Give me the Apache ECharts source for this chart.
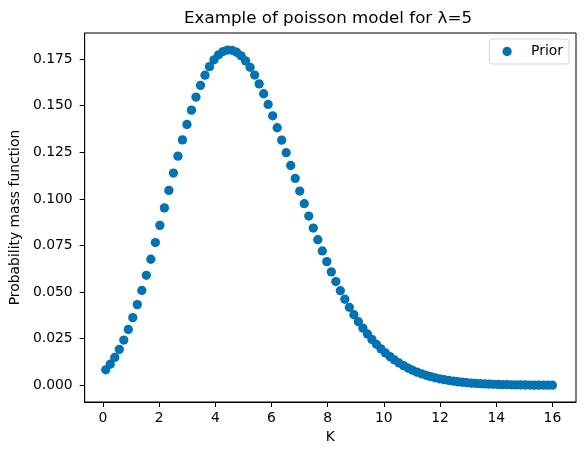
<!DOCTYPE html>
<html>
<head>
<meta charset="utf-8">
<script src="https://cdn.jsdelivr.net/npm/echarts/dist/echarts.min.js"></script>
<style>
html, body { margin: 0; padding: 0; background: #ffffff; }
#chart { width: 584px; height: 455px; }
</style>
</head>
<body>
<div id="chart"></div>
<script>
// ---- data ----
const titleText = 'Example of poisson model for \u03bb=5';
const xName = 'K';
const yName = 'Probability mass function';
const seriesName = 'Prior';

const kValues = [
  0.1, 0.2606, 0.4212, 0.5818, 0.7424, 0.9030, 1.0636, 1.2242, 1.3848, 1.5455,
  1.7061, 1.8667, 2.0273, 2.1879, 2.3485, 2.5091, 2.6697, 2.8303, 2.9909, 3.1515,
  3.3121, 3.4727, 3.6333, 3.7939, 3.9545, 4.1152, 4.2758, 4.4364, 4.5970, 4.7576,
  4.9182, 5.0788, 5.2394, 5.4000, 5.5606, 5.7212, 5.8818, 6.0424, 6.2030, 6.3636,
  6.5242, 6.6848, 6.8455, 7.0061, 7.1667, 7.3273, 7.4879, 7.6485, 7.8091, 7.9697,
  8.1303, 8.2909, 8.4515, 8.6121, 8.7727, 8.9333, 9.0939, 9.2545, 9.4152, 9.5758,
  9.7364, 9.8970, 10.0576, 10.2182, 10.3788, 10.5394, 10.7000, 10.8606, 11.0212, 11.1818,
  11.3424, 11.5030, 11.6636, 11.8242, 11.9848, 12.1455, 12.3061, 12.4667, 12.6273, 12.7879,
  12.9485, 13.1091, 13.2697, 13.4303, 13.5909, 13.7515, 13.9121, 14.0727, 14.2333, 14.3939,
  14.5545, 14.7152, 14.8758, 15.0364, 15.1970, 15.3576, 15.5182, 15.6788, 15.8394, 16.0
];

const pmfValues = [
  0.00832, 0.01133, 0.01497, 0.01928, 0.02426, 0.02993, 0.03629, 0.04328, 0.05088, 0.05902,
  0.06762, 0.07658, 0.08580, 0.09517, 0.10457, 0.11386, 0.12293, 0.13166, 0.13992, 0.14762,
  0.15465, 0.16092, 0.16638, 0.17096, 0.17461, 0.17731, 0.17906, 0.17985, 0.17971, 0.17866,
  0.17675, 0.17404, 0.17058, 0.16644, 0.16169, 0.15641, 0.15068, 0.14458, 0.13818, 0.13155,
  0.12478, 0.11792, 0.11103, 0.10419, 0.09743, 0.09080, 0.08435, 0.07810, 0.07209, 0.06633,
  0.06085, 0.05566, 0.05076, 0.04616, 0.04185, 0.03784, 0.03413, 0.03069, 0.02753, 0.02463,
  0.02198, 0.01956, 0.01737, 0.01539, 0.01360, 0.01199, 0.01054, 0.00925, 0.00810, 0.00707,
  0.00617, 0.00536, 0.00465, 0.00403, 0.00348, 0.00300, 0.00259, 0.00222, 0.00190, 0.00163,
  0.00139, 0.00118, 0.00101, 0.00086, 0.00073, 0.00061, 0.00052, 0.00044, 0.00037, 0.00031,
  0.00026, 0.00022, 0.00018, 0.00015, 0.00013, 0.00010, 0.00009, 0.00007, 0.00006, 0.00005
];

const xTicks = [0, 2, 4, 6, 8, 10, 12, 14, 16];
const yTicks = [0, 0.025, 0.05, 0.075, 0.1, 0.125, 0.15, 0.175];

// ---- chart ----
const FONT = 'DejaVu Sans';
const chart = echarts.init(document.getElementById('chart'), null, { renderer: 'canvas' });

const points = kValues.map((k, i) => [k, pmfValues[i]]);

const option = {
  animation: false,
  backgroundColor: '#ffffff',
  textStyle: { fontFamily: FONT },
  title: {
    text: titleText,
    left: 328,
    textAlign: 'center',
    top: 10,
    padding: 0,
    textStyle: { fontFamily: FONT, fontSize: 16.7, fontWeight: 'normal', color: '#000000', lineHeight: 16.7 }
  },
  legend: {
    data: [seriesName],
    right: 15,
    top: 39,
    orient: 'vertical',
    icon: 'circle',
    itemWidth: 20,
    itemHeight: 9.3,
    padding: [5.5, 6, 5.5, 13],
    backgroundColor: '#ffffff',
    borderColor: '#d5d5d5',
    borderWidth: 1,
    borderRadius: 3,
    textStyle: { fontFamily: FONT, fontSize: 13.9, color: '#000000', lineHeight: 14, padding: [0, 0, 0, 9] }
  },
  grid: {
    left: 80,
    top: 33,
    right: 8,
    bottom: 53,
    show: true,
    borderColor: '#000000',
    borderWidth: 1,
    backgroundColor: 'transparent'
  },
  xAxis: {
    type: 'value',
    min: -0.65,
    max: 16.84,
    name: xName,
    nameLocation: 'middle',
    nameGap: 28,
    nameTextStyle: { fontFamily: FONT, fontSize: 13.9, color: '#000000', lineHeight: 13.9 },
    splitLine: { show: false },
    axisLine: { show: true, onZero: false, lineStyle: { color: '#000000', width: 1 } },
    axisTick: { show: true, inside: false, length: 5, lineStyle: { color: '#000000', width: 1 }, customValues: xTicks },
    axisLabel: {
      show: true, margin: 9.5, fontFamily: FONT, fontSize: 13.9, color: '#000000', lineHeight: 13.9,
      customValues: xTicks,
      formatter: v => String(v)
    }
  },
  yAxis: {
    type: 'value',
    min: -0.00896,
    max: 0.18900,
    name: yName,
    nameLocation: 'middle',
    nameRotate: 90,
    nameGap: 50,
    nameTextStyle: { fontFamily: FONT, fontSize: 13.9, color: '#000000', lineHeight: 13.9 },
    splitLine: { show: false },
    axisLine: { show: true, onZero: false, lineStyle: { color: '#000000', width: 1 } },
    axisTick: { show: true, inside: false, length: 5, lineStyle: { color: '#000000', width: 1 }, customValues: yTicks },
    axisLabel: {
      show: true, margin: 12, fontFamily: FONT, fontSize: 13.9, color: '#000000', lineHeight: 13.9,
      customValues: yTicks,
      formatter: v => v.toFixed(3)
    }
  },
  series: [{
    name: seriesName,
    type: 'scatter',
    data: points,
    symbol: 'circle',
    symbolSize: 9.3,
    itemStyle: { color: '#0173b2', opacity: 1 },
    emphasis: { disabled: true }
  }]
};

chart.setOption(option);
</script>
</body>
</html>
